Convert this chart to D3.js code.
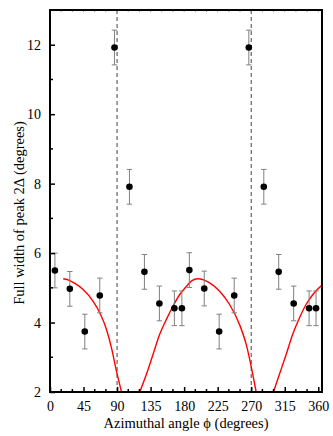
<!DOCTYPE html>
<html><head><meta charset="utf-8">
<script src="https://cdn.jsdelivr.net/npm/d3@7"></script>
<style>body{margin:0;background:#fff} text{font-family:"Liberation Serif","Times New Roman",serif;}</style>
</head><body>
<svg id="chart" width="333" height="436"></svg>
<script>
// Data points (azimuthal angle, full width) with symmetric error
const phi    = [6.6, 26.6, 46.7, 66.8, 86.5, 106.6, 126.7, 146.8, 166.9, 177, 187, 207, 227, 247.2, 266.8, 286.9, 306.9, 327, 347.7, 357];
const width2 = [5.5, 4.97, 3.74, 4.78, 11.92, 7.91, 5.46, 4.55, 4.41, 4.41, 5.51, 4.98, 3.74, 4.78, 11.92, 7.91, 5.46, 4.55, 4.41, 4.41];
const errs   = [0.5, 0.5, 0.5, 0.5, 0.5, 0.5, 0.5, 0.5, 0.5, 0.5, 0.5, 0.5, 0.5, 0.5, 0.5, 0.5, 0.5, 0.5, 0.5, 0.5];
// Fitted curve (segments separated by null)
const curvePhi = [17.7, 26.6, 34, 44.5, 57.9, 66.8, 75.8, 82.5, 89.2, 96, null,
                  120.4, 129.4, 138.2, 147.2, 156.2, 165, 173.9, 182.9, 190, 198.5, 214.2, 227.6, 241, 254.4, 263.3, 272.1, 276.7, null,
                  299.8, 307.9, 316.9, 325.7, 334.7, 343.6, 352.5, 365];
const curveW   = [5.26, 5.21, 5.12, 4.95, 4.61, 4.28, 3.80, 3.27, 2.60, 2.0, null,
                  2.0, 2.51, 3.08, 3.66, 4.09, 4.47, 4.80, 5.04, 5.2, 5.26, 5.14, 4.90, 4.52, 3.94, 3.37, 2.51, 2.0, null,
                  2.0, 2.51, 3.08, 3.66, 4.13, 4.52, 4.80, 5.08];
const dashedAt = [90, 270];
const xTicks = [0, 45, 90, 135, 180, 225, 270, 315, 360];
const yTicks = [2, 4, 6, 8, 10, 12];
const xLabel = "Azimuthal angle \u03d5 (degrees)";
const yLabel = "Full width of peak 2\u0394 (degrees)";

const L = 50, R = 322, T = 10, B = 392;
const x = d3.scaleLinear().domain([0, 365]).range([L, R]);
const y = d3.scaleLinear().domain([2, 13]).range([B, T]);
const svg = d3.select("#chart");
const FS = 14, FT = 14.5;

// clip
svg.append("defs").append("clipPath").attr("id", "clip")
  .append("rect").attr("x", L).attr("y", T).attr("width", R - L).attr("height", B - T);

// dashed lines
svg.append("g").selectAll("line").data(dashedAt).join("line")
  .attr("x1", d => x(d)).attr("x2", d => x(d)).attr("y1", T).attr("y2", B)
  .attr("stroke", "#444").attr("stroke-width", 1).attr("stroke-dasharray", "4,3");

// curve
const pts = curvePhi.map((p, i) => [p, curveW[i]]);
svg.append("path").datum(pts)
  .attr("clip-path", "url(#clip)")
  .attr("d", d3.line().defined(d => d[0] !== null).x(d => x(d[0])).y(d => y(d[1])).curve(d3.curveMonotoneX))
  .attr("fill", "none").attr("stroke", "#ff0000").attr("stroke-width", 1.4);

// error bars
const eb = svg.append("g").attr("stroke", "#808080").attr("stroke-width", 1);
phi.forEach((p, i) => {
  const cx = x(p), y1 = y(width2[i] - errs[i]), y2 = y(width2[i] + errs[i]);
  eb.append("line").attr("x1", cx).attr("x2", cx).attr("y1", y1).attr("y2", y2);
  eb.append("line").attr("x1", cx - 2.7).attr("x2", cx + 2.7).attr("y1", y1).attr("y2", y1);
  eb.append("line").attr("x1", cx - 2.7).attr("x2", cx + 2.7).attr("y1", y2).attr("y2", y2);
});
// points
svg.append("g").selectAll("circle").data(phi).join("circle")
  .attr("cx", d => x(d)).attr("cy", (d, i) => y(width2[i])).attr("r", 3.3).attr("fill", "#000");

// axes (ticks inward)
const xMinor = d3.range(0, 366, 15).filter(v => v % 45 !== 0);
const yMinor = d3.range(3, 13, 2);
const bottom = svg.append("g").attr("transform", `translate(0,${B})`)
  .call(d3.axisBottom(x).tickValues(xTicks).tickSizeInner(-5).tickSizeOuter(0).tickPadding(9));
bottom.append("g").selectAll("line").data(xMinor).join("line")
  .attr("x1", d => x(d)).attr("x2", d => x(d)).attr("y1", 0).attr("y2", -3).attr("stroke", "#000");
const left = svg.append("g").attr("transform", `translate(${L},0)`)
  .call(d3.axisLeft(y).tickValues(yTicks).tickSizeInner(-5).tickSizeOuter(0).tickPadding(9));
left.append("g").selectAll("line").data(yMinor).join("line")
  .attr("x1", 0).attr("x2", 3).attr("y1", d => y(d)).attr("y2", d => y(d)).attr("stroke", "#000");
// top small ticks
svg.append("g").selectAll("line").data(d3.range(0, 366, 15)).join("line")
  .attr("x1", d => x(d)).attr("x2", d => x(d)).attr("y1", T).attr("y2", T + 2)
  .attr("stroke", "#999");
[bottom, left].forEach(g => {
  g.selectAll(".domain").remove();
  g.attr("font-family", null);
  g.selectAll("text").attr("font-family", null).attr("font-size", FS).attr("fill", "#000");
  g.selectAll("line").attr("stroke-width", 1.5);
});
// frame
svg.append("rect").attr("x", L).attr("y", T).attr("width", R - L).attr("height", B - T)
  .attr("fill", "none").attr("stroke", "#000").attr("stroke-width", 2);

// titles
svg.append("text").attr("x", (L + R) / 2).attr("y", 428).attr("text-anchor", "middle")
  .attr("font-size", FT).text(xLabel);
svg.append("text").attr("transform", "translate(24,213) rotate(-90)").attr("text-anchor", "middle")
  .attr("font-size", FT).text(yLabel);
</script>
</body></html>
